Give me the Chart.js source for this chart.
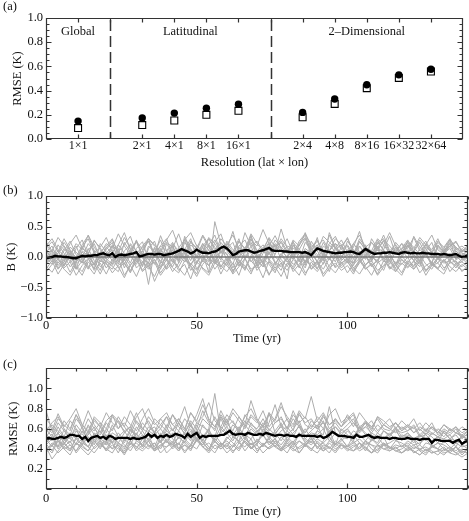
<!DOCTYPE html>
<html><head><meta charset="utf-8">
<script src="https://cdn.jsdelivr.net/npm/chart.js@4.4.1/dist/chart.umd.min.js"></script>
<style>
html,body{margin:0;padding:0;background:#fff;width:469px;height:521px;overflow:hidden;position:relative}
canvas{position:absolute;left:0}
#ca{top:0;width:469px;height:170px}
#cb{top:175px;width:469px;height:172px}
#cc{top:347px;width:469px;height:174px}
</style></head><body>
<canvas id="ca" width="469" height="170"></canvas>
<canvas id="cb" width="469" height="172"></canvas>
<canvas id="cc" width="469" height="174"></canvas>
<script>
// ---------- Panel (a) data ----------
const groupNames = ['Global', 'Latitudinal', '2–Dimensional'];
const groupMembers = [['1×1'], ['2×1', '4×1', '8×1', '16×1'], ['2×4', '4×8', '8×16', '16×32', '32×64']];
const rmseCircles = [0.148, 0.173, 0.214, 0.255, 0.288, 0.22, 0.33, 0.448, 0.53, 0.577];
const rmseSquares = [0.09, 0.115, 0.153, 0.20, 0.233, 0.18, 0.29, 0.42, 0.505, 0.557];

// ---------- Panels (b),(c) data (values in hundredths of a kelvin) ----------
const years = [0,1,2,3,4,5,6,7,8,9,10,11,12,13,14,15,16,17,18,19,20,21,22,23,24,25,26,27,28,29,30,31,32,33,34,35,36,37,38,39,40,41,42,43,44,45,46,47,48,49,50,51,52,53,54,55,56,57,58,59,60,61,62,63,64,65,66,67,68,69,70,71,72,73,74,75,76,77,78,79,80,81,82,83,84,85,86,87,88,89,90,91,92,93,94,95,96,97,98,99,100,101,102,103,104,105,106,107,108,109,110,111,112,113,114,115,116,117,118,119,120,121,122,123,124,125,126,127,128,129,130,131,132,133,134,135,136,137,138,139,140];
const years2 = [0,2,4,6,8,10,12,14,16,18,20,22,24,26,28,30,32,34,36,38,40,42,44,46,48,50,52,54,56,58,60,62,64,66,68,70,72,74,76,78,80,82,84,86,88,90,92,94,96,98,100,102,104,106,108,110,112,114,116,118,120,122,124,126,128,130,132,134,136,138,140];

const meanB = [-2,-1,0,2,1,1,0,0,-1,-2, -2,0,2,1,2,2,3,3,5,6, 4,3,6,0,3,4,3,4,5,6, 8,1,2,4,5,5,4,5,5,3,
  4,5,6,8,10,13,11,9,6,8, 12,9,7,7,6,8,9,11,15,17, 14,9,3,5,9,10,11,11,9,7, 8,10,11,13,15,11,10,10,10,9,
  9,8,8,8,8,7,8,6,3,9, 14,12,10,9,8,7,6,7,7,8, 8,9,8,6,5,9,13,10,7,5, 6,6,7,7,8,7,6,5,7,8,
  7,6,7,6,6,7,6,6,5,5, 5,4,5,4,3,4,5,2,0,1, 3];

const grayB1 = [5,-8,12,-15,3,18,-6,-20,8,15, -3,-12,20,6,-10,14,25,-5,2,35, 10,-8,15,28,5,-12,18,30,12,-5, 22,8,-15,10,24,2,-8,18,35,14, -2,20,8,-10,16,28,6,-5,12,20, -8,5,25,12,-3,15,8,-12,10,22, 5,-6,14,26,8,-4,12,18,2,-8, 6];
const grayB2 = [-10,2,-18,-5,-25,-8,4,-15,-28,-6, -12,-20,-2,-30,-14,0,-22,-8,-40,-18, -5,-24,-10,6,-16,-32,-12,0,-20,-6, -14,-26,-4,-18,2,-22,-10,-30,-8,-16, -2,-24,-12,4,-20,-6,-28,-14,0,-18, -8,-22,-4,-16,-30,-10,-2,-20,-12,-26, -6,-14,0,-22,-10,-18,-4,-24,-12,-8, -16];
const grayB3 = [15,25,8,30,12,-2,20,35,10,5, 22,14,38,18,4,26,12,30,20,8, 24,16,2,28,40,18,10,32,22,6, 20,36,14,8,28,18,45,22,12,30, 16,4,26,38,20,10,34,24,14,28, 8,22,36,16,10,30,20,40,18,6, 24,14,32,20,8,26,16,30,12,18, 10];
const grayB4 = [0,-12,6,18,-4,-20,10,2,-14,22, 8,-6,14,-18,4,28,-2,-10,16,6, -20,12,-4,24,10,-8,4,-25,58,20, -6,8,30,-4,12,-15,6,22,-10,2, 18,14,10,-8,14,4,-12,20,8,-4, 26,12,-6,16,2,-10,20,6,-14,12, 24,4,-8,16,8,-2,14,-6,10,2, -4];
const grayB5 = [-5,10,-2,-15,8,0,-10,14,-6,-22, 4,12,-8,2,2,-12,6,-45,10,-16, 2,18,-6,8,-14,4,22,-2,-10,12, 6,-18,0,16,-8,4,-12,10,20,-4, -16,6,14,-10,2,-20,8,-2,16,-6, 4,-14,10,0,-8,18,-4,6,-12,2, 12,-6,-16,8,2,-10,6,14,-4,0, -8];
const grayB6 = [10,-4,20,6,-8,14,28,2,-12,8, 18,30,4,-6,22,10,-16,14,26,-2, 8,20,-10,34,12,0,16,-6,24,38, 10,-4,18,28,6,-12,14,30,0,-8, -36,20,2,-14,26,10,-6,40,16,2, -10,22,8,-4,30,14,-8,4,24,12, -2,34,16,6,-10,20,8,28,-4,14, 6];
const grayB7 = [-15,-25,-8,-20,-30,-12,-2,-18,-10,-28, -6,-16,-24,0,-14,-32,-8,-20,-4,-26, -12,-2,-18,-30,-10,-22,-6,-14,4,-20, -8,-28,-16,-2,-24,-12,-34,-6,-18,-10, -22,-4,-14,-30,-8,-20,2,-16,-26,-10, -4,-18,-28,-12,-6,-22,-14,0,-20,-30, -10,-16,-4,-24,-12,-20,-28,-8,-14,-22, -18];
const grayB8 = [20,8,-5,14,2,-10,16,30,6,-4, 12,24,-8,10,20,2,-14,18,8,28, 0,14,38,10,-6,20,6,30,16,-2, 26,12,4,40,18,-4,10,24,8,46, 14,0,22,36,6,-8,18,10,30,20, 2,16,42,8,-6,24,12,34,4,14, 28,10,-2,20,36,12,4,18,26,8, 14];
const grayB9 = [-8,4,-14,-2,10,-20,-6,6,-12,0, -18,-4,8,-10,-24,2,-8,-16,4,-6, -20,-10,6,-2,-14,-28,0,-8,10,-16, -4,-22,-10,4,-6,-18,-2,-12,-26,2, -8,-16,0,8,-20,-12,-4,-24,6,-10, -2,-18,-8,4,-14,-6,-22,2,-10,-4, -16,-8,4,-12,-20,-2,-10,-6,-18,-2, -12];
const grayB10 = [0,12,4,-6,16,8,-2,22,10,-8, 6,18,0,-12,10,26,4,-4,14,-10, 22,6,-6,12,30,-2,8,20,-8,10, 4,-12,16,6,36,-2,12,-6,20,10, 0,26,-8,14,6,32,-4,10,22,0, 12,-10,18,6,-2,28,10,-6,16,4, 20,0,-12,10,24,-4,8,-8,16,6, 2];
const grayB11 = [25,10,32,18,4,22,12,36,16,2, 14,28,8,20,34,6,16,26,0,18, 10,24,4,30,14,-2,22,12,28,8, 18,2,26,14,34,10,20,4,28,16, 6,24,12,30,4,18,28,10,22,14, 32,8,18,2,24,14,36,10,20,6, 26,16,4,22,12,30,8,18,24,10, 16];
const grayB12 = [-20,-6,-28,-12,2,-16,-30,-8,-18,4, -10,-26,-14,-4,-22,-8,2,-16,-32,-10, -4,-18,-26,-6,-12,2,-20,-30,-10,-16, 0,-24,-8,-14,-28,-4,-16,-8,-22,-12, -2,-18,-30,-6,-14,-24,-10,0,-18,-8, -26,-12,-2,-20,-10,-28,-6,-16,-24,-4, -12,-20,-8,-30,-14,-2,-18,-10,-6,-24, -14];
const grayB13 = [8,18,-4,10,26,4,-10,12,22,-2, 16,6,-12,24,8,-4,18,30,2,12, -6,22,10,-2,26,14,-8,20,36,6, 14,24,-2,12,30,8,-10,16,4,26, 10,-4,20,32,12,0,24,6,-8,18, 30,10,2,20,-6,14,26,4,12,-2, 18,8,24,2,-10,16,6,22,10,0, 12];
const grayB14 = [-12,-2,-20,-8,6,-14,-24,-4,8,-16, -6,4,-18,-10,-26,-2,10,-12,-4,-20, 6,-8,-16,2,-22,-10,4,-14,-2,-28, -8,6,-12,-20,0,-6,-16,8,-10,-22, 2,-12,-4,-18,10,-8,-20,-2,4,-14, -6,-24,-10,2,-16,-4,8,-18,-8,-12, 0,-20,-6,4,-14,-10,-22,-2,-8,-16, -6];
const grayB15 = [12,-2,6,24,10,-6,16,4,28,12, -4,20,8,32,14,-8,10,26,6,18, 30,2,14,-4,20,10,34,16,4,24, 12,42,8,-2,18,26,10,4,22,14, 30,6,-6,24,12,20,2,36,14,8, 18,-4,26,12,6,22,30,8,16,2, 20,10,28,14,-2,18,8,24,14,4, 10];
const grayB16 = [-4,6,-10,2,-16,-6,8,-2,-20,4, -8,-14,6,-4,10,-18,-8,2,-12,14, -2,-16,4,-8,8,-20,-4,12,-10,0, -14,6,-6,-22,2,-10,16,-4,-14,6, -8,2,-18,10,-6,-12,4,-2,-16,8, -4,-10,6,-14,0,-6,12,-8,-18,2, -10,4,-6,10,-14,0,-8,6,-12,-4, -2];
const grayB17 = [18,30,12,2,22,36,14,6,26,16, 32,8,20,40,12,24,4,30,18,10, 28,44,16,6,24,14,36,20,8,30, 18,4,26,12,38,22,10,32,16,24, 6,28,18,40,14,26,8,22,34,12, 20,4,30,16,24,10,28,18,6,22, 14,32,10,20,6,24,14,28,16,8, 20];
const grayB18 = [-25,-12,-4,-18,-8,-30,-14,-2,-22,-10, -28,-6,-16,-34,-12,-4,-24,-14,-8,-30, -16,-4,-22,-12,-36,-8,-18,-26,-4,-14, -24,-10,-30,-2,-20,-14,-6,-28,-16,-32, -10,-20,-4,-26,-14,-8,-32,-18,-10,-22, -14,-28,-6,-20,-12,-30,-16,-4,-24,-10, -18,-6,-26,-14,-8,-20,-4,-16,-24,-12, -20];

const meanC = [51,51,50,50,51,52,51,52,54,54, 53,53,50,52,48,51,52,53,51,52, 50,53,52,50,51,51,51,51,50,51, 50,50,51,52,55,52,54,51,53,52,
  54,52,53,55,54,53,51,55,52,54, 56,51,53,52,53,53,53,53,54,54, 56,58,55,54,55,55,54,56,55,54, 54,55,54,56,55,54,53,54,54,53,
  54,53,53,52,54,53,53,53,53,53, 52,53,51,52,54,57,55,53,53,53, 52,52,51,54,52,52,53,54,52,51, 52,51,51,51,50,51,51,50,50,50,
  51,50,50,50,49,50,50,50,46,49, 49,48,48,48,48,46,48,49,45,47, 48];

const grayC1 = [48,55,42,60,50,45,58,52,44,62, 50,46,56,48,60,52,42,58,54,46, 62,50,44,56,66,48,52,60,46,58, 70,52,48,64,56,44,60,50,58,66, 48,56,62,50,46,58,68,52,44,60, 54,48,62,56,50,46,58,52,60,48, 54,50,44,56,52,46,58,50,42,54, 48];
const grayC2 = [40,44,36,42,38,46,40,34,42,48, 38,44,40,36,46,42,38,44,40,48, 36,42,46,38,44,40,50,42,36,46, 40,44,38,48,42,36,46,40,44,38, 42,48,36,44,40,46,38,42,36,44, 40,38,46,42,36,44,40,38,42,36, 40,44,38,34,42,40,36,38,42,34, 40];
const grayC3 = [58,66,72,60,54,70,62,78,64,56, 68,74,60,66,58,72,80,64,56,70, 62,74,66,58,76,68,84,70,62,74, 66,80,72,64,88,70,62,76,68,82, 72,64,78,70,92,68,60,74,80,66, 72,62,76,68,58,72,64,70,60,68, 62,70,58,66,60,56,64,58,62,56, 60];
const grayC4 = [50,42,56,46,38,52,44,58,48,40, 54,46,36,50,44,56,42,48,38,52, 46,56,40,50,44,60,48,38,54,46, 42,52,48,56,40,46,54,44,50,38, 48,42,56,46,52,40,48,58,44,50, 42,54,46,38,50,44,52,40,48,46, 42,50,38,46,44,40,48,42,38,44, 40];
const grayC5 = [62,56,70,64,58,74,60,54,68,62, 56,72,66,58,62,76,60,68,56,64, 72,58,66,82,62,56,70,64,60,78, 66,58,72,62,74,68,56,66,84,62, 70,58,76,64,60,72,66,56,70,62, 68,74,58,66,62,70,60,58,66,60, 64,56,62,58,66,54,60,56,62,52, 58];
const grayC6 = [45,38,50,42,48,36,44,52,40,46, 38,48,42,34,46,40,50,44,38,42, 48,40,46,36,44,52,42,38,48,40, 44,36,46,42,50,38,44,40,48,42, 36,46,40,44,38,48,42,36,46,40, 44,38,42,48,40,36,44,42,38,40, 44,36,40,42,38,34,40,36,42,38, 36];
const grayC7 = [52,60,48,44,56,50,62,46,54,58, 48,64,52,46,58,54,50,62,56,48, 58,52,66,54,60,48,64,56,52,70, 58,54,62,50,66,58,52,76,56,62, 54,60,68,52,58,64,50,56,62,54, 60,52,58,66,54,50,58,54,62,52, 56,50,54,48,56,52,50,54,46,52, 50];
const grayC8 = [36,44,48,40,34,46,42,38,50,44, 40,36,46,42,48,38,44,40,46,36, 42,48,40,44,38,50,42,46,40,44, 36,42,48,38,46,40,44,50,42,38, 46,40,36,44,48,42,38,46,40,44, 38,42,46,40,36,44,40,42,38,36, 42,38,34,40,36,38,42,36,34,38, 36];
const grayC9 = [42,30,38,46,40,50,44,38,48,42, 46,40,52,44,38,48,54,42,46,40, 50,44,38,48,42,56,46,40,50,44, 48,42,54,46,40,50,44,48,42,52, 46,40,48,44,50,42,46,40,48,44, 42,48,40,46,44,38,46,42,40,44, 38,42,40,36,44,40,38,42,36,40, 38];
const grayC10 = [78,58,75,62,70,80,64,56,72,66, 60,74,68,62,78,66,58,72,64,70, 76,64,58,70,62,74,90,68,62,72, 64,76,68,60,72,66,78,62,70,86, 68,62,74,66,70,60,72,64,68,62, 70,76,62,66,60,72,68,62,66,58, 64,60,66,58,62,56,64,60,56,62, 58];
const grayC11 = [55,48,62,52,46,58,50,64,54,48, 60,52,46,56,62,50,58,48,54,60, 52,46,58,50,64,54,48,60,95,56, 62,52,58,50,60,54,64,56,50,58, 62,54,52,60,50,58,54,82,56,50, 58,52,62,54,48,56,50,54,58,50, 56,48,52,54,48,52,56,50,48,52, 50];
const grayC12 = [44,50,56,46,52,60,48,54,62,50, 46,56,52,58,48,62,54,50,58,46, 54,60,50,56,48,64,52,58,50,62, 56,48,60,54,50,58,62,52,56,48, 58,52,64,50,56,54,60,48,56,52, 50,58,54,48,56,52,50,56,48,54, 52,46,54,50,48,52,46,50,54,46, 50];
const grayC13 = [60,52,66,58,50,64,56,70,60,54, 66,58,72,62,54,68,60,56,70,64, 58,74,62,56,68,60,78,66,58,72, 62,68,56,74,64,60,70,58,66,72, 60,78,64,56,68,62,74,60,66,58, 64,70,56,62,68,58,64,60,56,62, 58,64,54,60,56,52,58,54,60,50, 56];
const grayC14 = [38,46,42,50,44,38,48,42,52,46, 40,50,44,38,48,42,46,54,40,44, 48,42,52,46,40,50,44,56,48,42, 52,46,40,50,44,48,42,52,46,40, 50,44,48,42,54,46,40,48,44,50, 42,46,40,48,44,42,46,40,44,42, 46,40,44,38,42,46,40,38,42,36, 40];
const grayC15 = [70,62,56,68,60,74,64,58,70,62, 76,66,60,72,64,58,70,80,66,60, 72,64,70,60,76,66,72,86,68,62, 74,66,60,72,80,68,62,74,66,70, 60,74,66,72,62,68,76,64,70,62, 74,66,60,68,62,56,64,60,66,58, 62,56,60,54,62,58,52,60,56,54, 58];
const grayC16 = [46,52,40,48,54,44,50,42,56,48, 44,52,46,40,54,48,44,50,42,56, 48,44,52,46,58,50,44,54,48,42, 50,56,46,52,44,48,54,46,50,44, 52,46,56,48,44,50,46,52,42,48, 54,46,50,44,48,52,44,46,50,42, 48,44,46,50,42,46,44,40,46,42, 44];
const grayC17 = [56,64,58,52,68,60,54,62,58,66, 52,60,68,56,62,54,66,58,62,52, 64,58,70,60,54,66,62,58,72,60, 54,64,58,68,62,56,66,60,54,64, 58,70,62,56,64,60,66,58,62,56, 60,66,58,62,56,64,58,54,60,56, 58,62,52,58,54,60,56,50,56,52, 54];
const grayC18 = [42,36,48,40,44,38,46,42,36,44, 48,40,44,36,42,46,40,48,38,44, 42,46,38,44,40,48,42,36,44,40, 46,38,42,48,40,44,36,42,46,40, 44,38,42,46,40,36,44,42,38,46, 40,44,38,42,36,40,44,38,42,36, 40,38,34,40,36,38,34,40,36,32, 36];

const grayB = [grayB1, grayB2, grayB3, grayB4, grayB5, grayB6, grayB7, grayB8, grayB9, grayB10, grayB11, grayB12, grayB13, grayB14, grayB15, grayB16, grayB17, grayB18];
const grayC = [grayC1, grayC2, grayC3, grayC4, grayC5, grayC6, grayC7, grayC8, grayC9, grayC10, grayC11, grayC12, grayC13, grayC14, grayC15, grayC16, grayC17, grayC18];

// ---------- styling ----------
const FONT = '"Liberation Serif","Times New Roman","DejaVu Serif",serif';
const FS = 12.5;
Chart.defaults.font.family = FONT;
Chart.defaults.font.size = FS;
Chart.defaults.color = '#111';
Chart.defaults.animation = false;
Chart.defaults.plugins.legend.display = false;
Chart.defaults.plugins.tooltip.enabled = false;

function tickList(min, max, step, isMajor, major, minor) {
  const out = [];
  const n = Math.round((max - min) / step);
  for (let i = 0; i <= n; i++) {
    const v = +(min + i * step).toFixed(6);
    out.push([v, isMajor(v) ? major : minor]);
  }
  return out;
}
const near = (v, s) => Math.abs(v / s - Math.round(v / s)) < 1e-6;

const frameTicks = {
  id: 'frameTicks',
  afterDraw(chart, args, o) {
    const {ctx, chartArea: a} = chart;
    const xs = chart.scales.x, ys = chart.scales.y;
    ctx.save();
    ctx.fillStyle = '#111';
    ctx.font = FS + 'px ' + FONT;
    ctx.textBaseline = 'middle';
    ctx.textAlign = 'left';
    ctx.fillText(o.letter, o.letterX, o.letterY);
    ctx.strokeStyle = '#333';
    ctx.lineWidth = 1.2;
    const L = Math.round(a.left) + 0.5, R = Math.round(a.right) - 0.5;
    const T = Math.round(a.top) + 0.5, B = Math.round(a.bottom) - 0.5;
    ctx.beginPath();
    ctx.rect(L, T, R - L, B - T);
    o.xTicks.forEach(([v, len]) => {
      const p = Math.round(xs.getPixelForValue(v)) + 0.5;
      ctx.moveTo(p, B); ctx.lineTo(p, B - len);
      ctx.moveTo(p, T); ctx.lineTo(p, T + len);
    });
    o.yTicks.forEach(([v, len]) => {
      const p = Math.round(ys.getPixelForValue(v)) + 0.5;
      ctx.moveTo(L, p); ctx.lineTo(L + len, p);
      ctx.moveTo(R, p); ctx.lineTo(R - len, p);
    });
    ctx.stroke();
    ctx.restore();
  }
};
Chart.register(frameTicks);

const baseX = (extra) => Object.assign({
  grid: {display: false, drawTicks: false, tickLength: 0},
  border: {display: false}
}, extra);

// ---------- Panel (a) ----------
const slotLabels = [''];
groupMembers.forEach(m => { slotLabels.push(...m, ''); });
const resLabels = groupMembers.flat();

const groupDecor = {
  id: 'groupDecor',
  afterDatasetsDraw(chart) {
    const {ctx, chartArea: a} = chart;
    const xs = chart.scales.x, ys = chart.scales.y;
    ctx.save();
    ctx.strokeStyle = '#333';
    ctx.lineWidth = 1.5;
    ctx.setLineDash([11, 5]);
    slotLabels.forEach((l, i) => {
      if (l === '' && i > 0 && i < slotLabels.length - 1) {
        const p = Math.round(xs.getPixelForValue(i)) + 0.5;
        ctx.beginPath(); ctx.moveTo(p, a.top + 2); ctx.lineTo(p, a.bottom); ctx.stroke();
      }
    });
    ctx.setLineDash([]);
    ctx.fillStyle = '#111';
    ctx.font = FS + 'px ' + FONT;
    ctx.textAlign = 'center';
    ctx.textBaseline = 'middle';
    const yText = ys.getPixelForValue(0.885);
    groupNames.forEach((g, gi) => {
      const px = groupMembers[gi].map(m => xs.getPixelForValue(slotLabels.indexOf(m)));
      const cx = px.reduce((s, v) => s + v, 0) / px.length;
      ctx.fillText(g, cx, yText);
    });
    ctx.restore();
  }
};

new Chart(document.getElementById('ca'), {
  type: 'line',
  data: {
    labels: slotLabels,
    datasets: [
      {data: resLabels.map((l, i) => ({x: l, y: rmseCircles[i]})), showLine: false,
       pointStyle: 'circle', pointRadius: 3.7, backgroundColor: '#000', borderColor: '#000', borderWidth: 0},
      {data: resLabels.map((l, i) => ({x: l, y: rmseSquares[i]})), showLine: false,
       pointStyle: 'rect', pointRadius: 4.9, backgroundColor: '#fff', borderColor: '#000', borderWidth: 1.1}
    ]
  },
  options: {
    responsive: false,
    layout: {padding: {left: 0, right: 1, top: 18, bottom: 0}},
    scales: {
      x: baseX({type: 'category', offset: false,
        ticks: {autoSkip: false, maxRotation: 0, minRotation: 0, padding: 0, font: {size: 12}},
        title: {display: true, text: 'Resolution (lat × lon)', padding: {top: 0, bottom: 0}},
        afterFit: s => { s.height = 31; }}),
      y: baseX({min: 0, max: 1,
        ticks: {stepSize: 0.2, padding: 3, callback: v => v.toFixed(1)},
        title: {display: true, text: 'RMSE (K)', padding: {top: 10, bottom: 0}},
        afterFit: s => { s.width = 46; }})
    },
    plugins: {
      frameTicks: {letter: '(a)', letterX: 3, letterY: 7,
        xTicks: tickList(1, slotLabels.length - 2, 1, () => true, 4, 4),
        yTicks: tickList(0, 1, 0.05, v => near(v, 0.2), 5, 3)}
    }
  },
  plugins: [groupDecor]
});

// ---------- Panels (b) and (c) ----------
function timeChart(id, meanArr, grays, zeroLine, yOpts, frame, layoutTop, xTitlePad, xTickPad, xHeight) {
  const datasets = [
    {data: years.map((t, i) => ({x: t, y: meanArr[i] / 100})), borderColor: '#000', borderWidth: 2.4, pointRadius: 0, tension: 0}
  ];
  if (zeroLine) {
    datasets.push({data: [{x: years[0], y: 0}, {x: years[years.length - 1], y: 0}], borderColor: '#7a7a7a', borderWidth: 1.3, pointRadius: 0});
  }
  grays.forEach(s => datasets.push({
    data: years2.map((t, i) => ({x: t, y: s[i] / 100})), borderColor: '#adadad', borderWidth: 1, pointRadius: 0, tension: 0
  }));
  return new Chart(document.getElementById(id), {
    type: 'line',
    data: {datasets},
    options: {
      responsive: false,
      layout: {padding: {left: 0, right: 1, top: layoutTop, bottom: 0}},
      scales: {
        x: baseX({type: 'linear', min: 0, max: 140,
          ticks: {stepSize: 50, includeBounds: false, padding: xTickPad, maxRotation: 0,
                  callback: v => (v % 50 === 0 ? String(v) : '')},
          title: {display: true, text: 'Time (yr)', padding: {top: 0, bottom: xTitlePad}},
          afterFit: s => { s.height = xHeight; }}),
        y: baseX(yOpts)
      },
      plugins: {frameTicks: frame}
    }
  });
}

timeChart('cb', meanB, grayB, true,
  {min: -1, max: 1,
   ticks: {stepSize: 0.5, padding: 3, callback: v => (v < 0 ? '−' : '') + Math.abs(v).toFixed(1)},
   title: {display: true, text: 'B (K)', padding: {top: 4.5, bottom: 0}},
   afterFit: s => { s.width = 46; }},
  {letter: '(b)', letterX: 3, letterY: 15.5,
   xTicks: tickList(0, 140, 10, v => near(v, 50), 5, 3),
   yTicks: tickList(-1, 1, 0.1, v => near(v, 0.5), 5, 3)},
  21, 0.5, 0, 29);

timeChart('cc', meanC, grayC, false,
  {min: 0, max: 1.2,
   ticks: {stepSize: 0.2, padding: 3, callback: v => (v > 0.05 && v < 1.15 ? v.toFixed(1) : '')},
   title: {display: true, text: 'RMSE (K)', padding: {top: 6.5, bottom: 0}},
   afterFit: s => { s.width = 46; }},
  {letter: '(c)', letterX: 3, letterY: 17.5,
   xTicks: tickList(0, 140, 10, v => near(v, 50), 5, 3),
   yTicks: tickList(0, 1.2, 0.1, v => near(v, 0.2), 5, 3)},
  21.3, 1.5, 1.5, 31.7);
</script>
</body></html>
